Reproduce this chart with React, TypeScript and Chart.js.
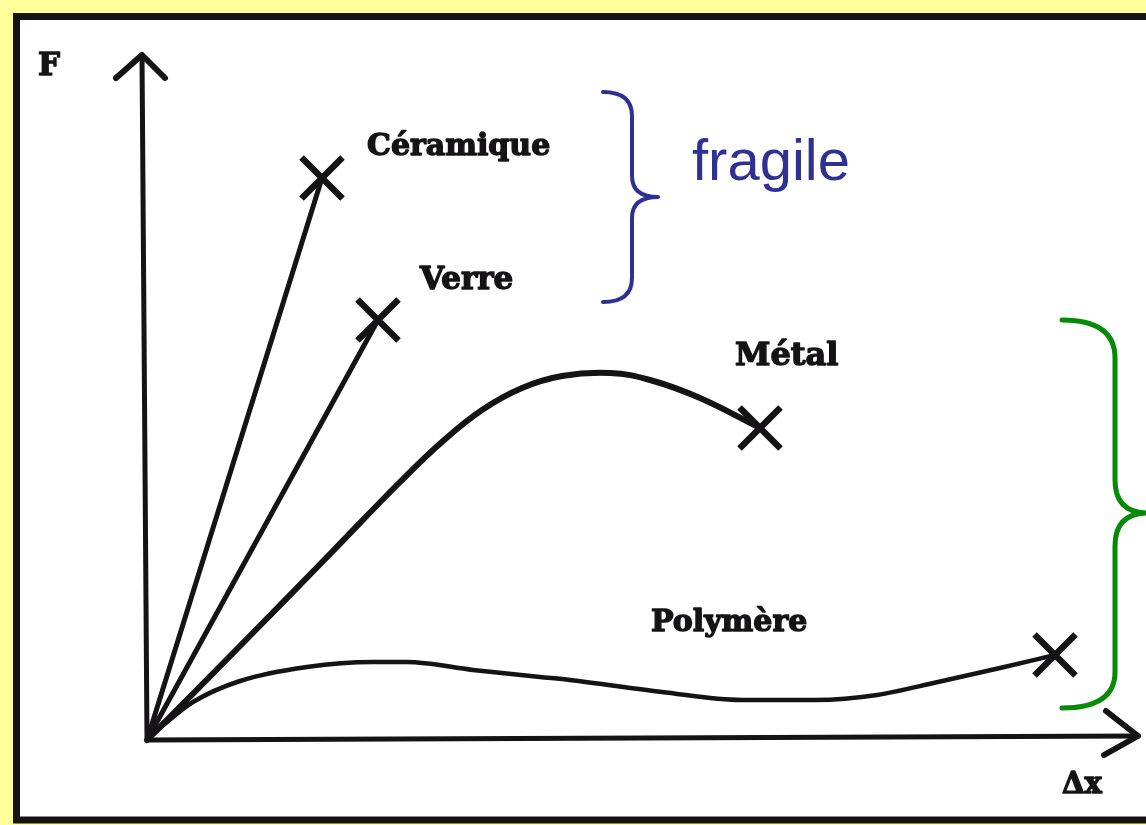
import React, { useEffect, useRef } from "react";
import { Chart, registerables } from "chart.js";

Chart.register(...registerables);

// Data (x = elongation Δx, y = force F, arbitrary units)
const seriesNames = ["Céramique", "Verre", "Métal", "Polymère"];
const ceramiqueX = [0, 17.5];
const ceramiqueY = [0, 56.2];
const verreX = [0, 23.1];
const verreY = [0, 42.0];
const metalX = [0, 9.3, 18.3, 25.3, 29.6, 33.5, 37.5, 41.5, 46.3, 50.3, 55.3, 61.3];
const metalY = [0, 9.4, 18.6, 25.8, 29.9, 33.0, 35.2, 36.4, 36.7, 36.0, 34.2, 31.2];
const polymerX = [0, 2.0, 4.6, 9.3, 16.0, 22.6, 26.0, 32.6, 39.3, 42.3, 51.5, 59.5, 66.9, 73.0, 79.1, 85.3, 90.8];
const polymerY = [0, 1.8, 3.8, 5.9, 7.3, 7.8, 7.8, 7.0, 6.3, 6.0, 4.8, 4.0, 4.0, 4.5, 5.8, 7.2, 8.5];
const axisTitleY = "F";
const axisTitleX = "Δx";
const fragileLabel = "fragile";

const zip = (xs: number[], ys: number[]) => xs.map((x, i) => ({ x, y: ys[i] }));

const INK = "#151316";
const BLUE = "#2e3192";
const GREEN = "#078a07";
const YELLOW = "#ffff99";

function boldText(ctx: any, text: string, x: number, y: number, font: string) {
  ctx.font = font;
  ctx.lineWidth = 1.4;
  ctx.lineJoin = "round";
  ctx.strokeStyle = INK;
  ctx.fillStyle = INK;
  ctx.fillText(text, x, y);
  ctx.strokeText(text, x, y);
}

const decorPlugin = {
  id: "decor",
  beforeDraw(chart: any) {
    const ctx = chart.ctx;
    const W = chart.width;
    const H = chart.height;
    ctx.save();
    ctx.fillStyle = YELLOW;
    ctx.fillRect(0, 0, W, H);
    ctx.fillStyle = "#ffffff";
    ctx.fillRect(17, 17, W + 20, 803);
    ctx.strokeStyle = INK;
    ctx.lineWidth = 7;
    ctx.strokeRect(16.5, 16.5, W + 20, 803.5);
    ctx.restore();
  },
  afterDatasetsDraw(chart: any) {
    const ctx = chart.ctx;
    const xs = chart.scales.x;
    const ys = chart.scales.y;
    const ox = xs.getPixelForValue(0);
    const oy = ys.getPixelForValue(0);
    const topY = ys.top;
    const rightX = xs.right;
    ctx.save();
    ctx.strokeStyle = INK;
    ctx.lineCap = "round";
    ctx.lineJoin = "round";
    // y axis with arrow
    ctx.lineWidth = 5;
    ctx.beginPath();
    ctx.moveTo(ox, oy);
    ctx.lineTo(ox - 5, topY);
    ctx.stroke();
    ctx.lineWidth = 6;
    ctx.beginPath();
    ctx.moveTo(ox - 31, topY + 23);
    ctx.lineTo(ox - 5, topY);
    ctx.lineTo(ox + 18, topY + 23);
    ctx.stroke();
    // x axis with arrow
    ctx.lineWidth = 5;
    ctx.beginPath();
    ctx.moveTo(ox, oy);
    ctx.lineTo(rightX, oy - 4);
    ctx.stroke();
    ctx.lineWidth = 6;
    ctx.beginPath();
    ctx.moveTo(rightX - 32, oy - 29);
    ctx.lineTo(rightX, oy - 4);
    ctx.lineTo(rightX - 34, oy + 15);
    ctx.stroke();

    // Labels
    ctx.textBaseline = "alphabetic";
    ctx.textAlign = "left";
    boldText(ctx, seriesNames[0], 367, 155, "bold 30px 'DejaVu Serif'");
    boldText(ctx, seriesNames[1], 420, 289, "bold 31px 'DejaVu Serif'");
    boldText(ctx, seriesNames[2], 735, 365, "bold 32px 'DejaVu Serif'");
    boldText(ctx, seriesNames[3], 651, 631, "bold 30px 'DejaVu Serif'");
    boldText(ctx, axisTitleY, 38, 75, "bold 31px 'DejaVu Serif'");
    boldText(ctx, axisTitleX, 1062, 793, "bold 29px 'DejaVu Serif'");

    // fragile brace + label
    ctx.strokeStyle = BLUE;
    ctx.lineWidth = 4;
    ctx.lineCap = "round";
    ctx.beginPath();
    ctx.moveTo(603, 92);
    ctx.quadraticCurveTo(632, 92, 632, 116);
    ctx.lineTo(632, 176);
    ctx.quadraticCurveTo(632, 197, 658, 197);
    ctx.quadraticCurveTo(632, 197, 632, 218);
    ctx.lineTo(632, 278);
    ctx.quadraticCurveTo(632, 302, 603, 302);
    ctx.stroke();
    ctx.fillStyle = BLUE;
    ctx.font = "58px 'Liberation Sans'";
    ctx.fillText(fragileLabel, 692, 180);

    // green brace
    ctx.strokeStyle = GREEN;
    ctx.lineWidth = 5;
    ctx.beginPath();
    ctx.moveTo(1062, 320);
    ctx.quadraticCurveTo(1115, 320, 1115, 358);
    ctx.lineTo(1115, 480);
    ctx.quadraticCurveTo(1115, 513, 1148, 513);
    ctx.moveTo(1148, 513);
    ctx.quadraticCurveTo(1115, 513, 1115, 546);
    ctx.lineTo(1115, 672);
    ctx.quadraticCurveTo(1115, 708, 1062, 708);
    ctx.stroke();
    ctx.restore();
  },
};

const endCross = (n: number) => (c: any) => (c.dataIndex === n - 1 ? 29 : 0);

export default function App() {
  const ref = useRef<HTMLCanvasElement | null>(null);
  useEffect(() => {
    if (!ref.current) return;
    const common = {
      borderColor: INK,
      pointStyle: "crossRot",
      pointBorderColor: INK,
      pointBackgroundColor: INK,
      pointBorderWidth: 6.5,
      pointHoverRadius: 0,
      fill: false,
      clip: false,
      borderCapStyle: "round",
      borderJoinStyle: "round",
    };
    const chart = new Chart(ref.current, {
      type: "line",
      data: {
        datasets: [
          { ...common, label: seriesNames[0], data: zip(ceramiqueX, ceramiqueY), borderWidth: 5, tension: 0, pointRadius: endCross(ceramiqueX.length) },
          { ...common, label: seriesNames[1], data: zip(verreX, verreY), borderWidth: 5, tension: 0, pointRadius: endCross(verreX.length) },
          { ...common, label: seriesNames[2], data: zip(metalX, metalY), borderWidth: 6, tension: 0.4, pointRadius: endCross(metalX.length) },
          { ...common, label: seriesNames[3], data: zip(polymerX, polymerY), borderWidth: 4.5, cubicInterpolationMode: "monotone", pointRadius: endCross(polymerX.length) },
        ] as any,
      },
      options: {
        animation: false,
        responsive: false,
        devicePixelRatio: 1,
        layout: { autoPadding: false, padding: { left: 147, right: 8, top: 55, bottom: 85 } },
        plugins: { legend: { display: false }, tooltip: { enabled: false } },
        events: [],
        scales: {
          x: { type: "linear", min: 0, max: 99.1, display: false },
          y: { type: "linear", min: 0, max: 68.5, display: false },
        },
      } as any,
      plugins: [decorPlugin],
    });
    return () => chart.destroy();
  }, []);
  return (
    <div style={{ position: "absolute", left: 0, top: 0, width: 1146, height: 825, background: YELLOW, overflow: "hidden" }}>
      <canvas ref={ref} width={1146} height={825} style={{ display: "block", width: 1146, height: 825 }} />
    </div>
  );
}
